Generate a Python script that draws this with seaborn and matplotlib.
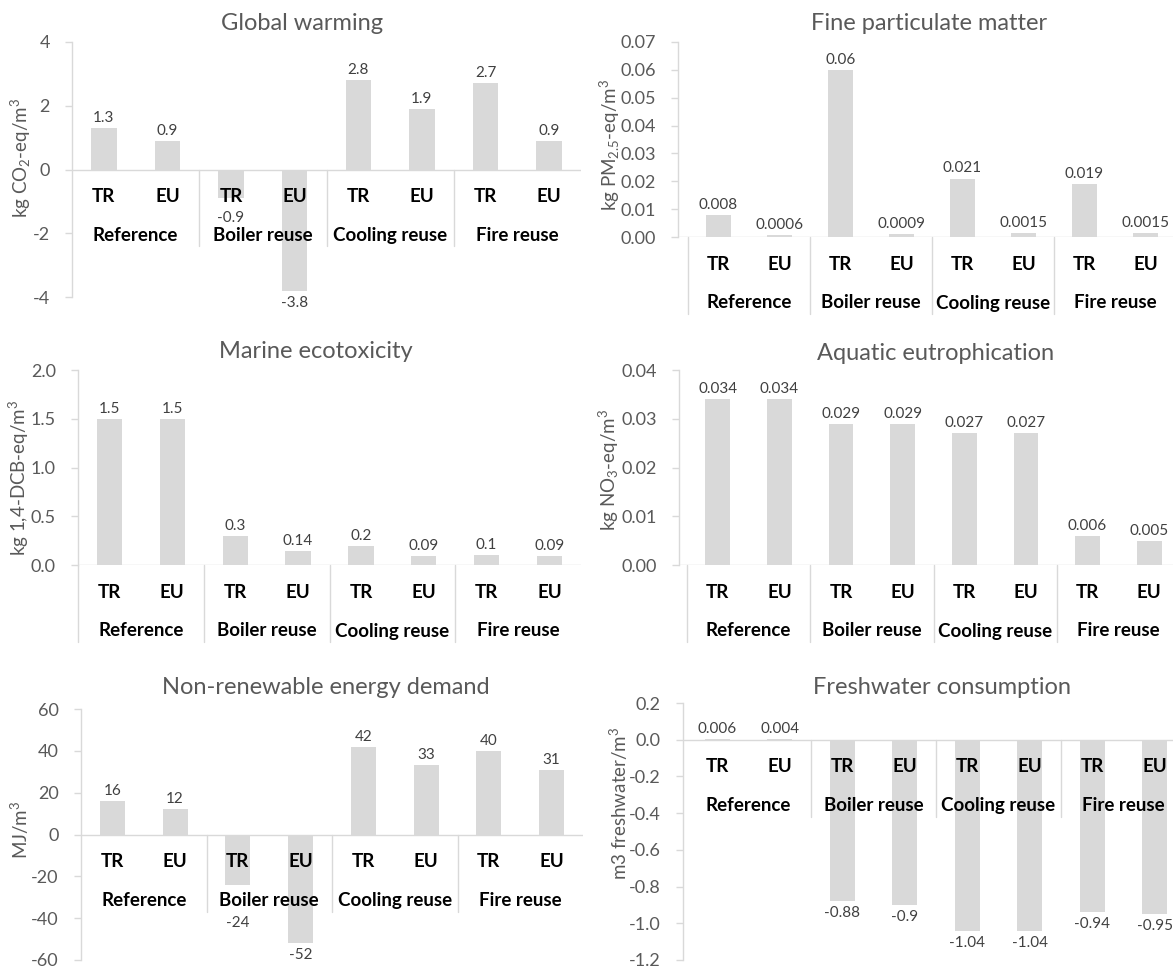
import matplotlib
matplotlib.use("Agg")
import matplotlib.pyplot as plt
import seaborn as sns
import pandas as pd

sns.set_theme(style="white")
plt.rcParams["font.family"] = ["Lato", "DejaVu Sans"]
plt.rcParams["mathtext.default"] = "regular"
plt.rcParams["axes.unicode_minus"] = False

# ---- data -------------------------------------------------------------
scenarios = ["Reference", "Boiler reuse", "Cooling reuse", "Fire reuse"]
regions = ["TR", "EU"]

global_warming = [1.3, 0.9, -0.9, -3.8, 2.8, 1.9, 2.7, 0.9]
fine_pm = [0.008, 0.0006, 0.06, 0.0009, 0.021, 0.0015, 0.019, 0.0015]
marine_ecotox = [1.5, 1.5, 0.3, 0.14, 0.2, 0.09, 0.1, 0.09]
aquatic_eutro = [0.034, 0.034, 0.029, 0.029, 0.027, 0.027, 0.006, 0.005]
nonrenew_energy = [16, 12, -24, -52, 42, 33, 40, 31]
freshwater = [0.006, 0.004, -0.88, -0.9, -1.04, -1.04, -0.94, -0.95]

titles = ["Global warming", "Fine particulate matter", "Marine ecotoxicity",
          "Aquatic eutrophication", "Non-renewable energy demand",
          "Freshwater consumption"]
ylabels = [r"kg CO$_2$-eq/m$^3$", r"kg PM$_{2.5}$-eq/m$^3$",
           r"kg 1,4-DCB-eq/m$^3$", r"kg NO$_3$-eq/m$^3$",
           r"MJ/m$^3$", r"m3 freshwater/m$^3$"]
yticks = [[-4, -2, 0, 2, 4],
          [0.00, 0.01, 0.02, 0.03, 0.04, 0.05, 0.06, 0.07],
          [0.0, 0.5, 1.0, 1.5, 2.0],
          [0.00, 0.01, 0.02, 0.03, 0.04],
          [-60, -40, -20, 0, 20, 40, 60],
          [-1.2, -1.0, -0.8, -0.6, -0.4, -0.2, 0.0, 0.2]]
tick_decimals = [0, 2, 1, 2, 0, 1]
series = [global_warming, fine_pm, marine_ecotox, aquatic_eutro,
          nonrenew_energy, freshwater]

# ---- layout (pixels, origin top-left) --------------------------------
W, H = 1173, 967
# spine x, category left, category right, y top, y bottom
frames = [
    (72, 72, 581, 42, 297),
    (678, 688, 1176, 42, 237),
    (78, 78, 581, 370, 565),
    (679, 687, 1180, 370, 565),
    (81, 81, 583, 709, 960),
    (683, 686, 1186, 703, 960),
]
title_pos = [(302, 24), (929, 24), (316, 352), (936, 354), (326, 688), (942, 688)]
ylabel_pos = [(21, 158), (610, 145), (19, 478), (609, 470), (20, 830), (619, 803)]
left_cat_edge = [False, True, True, True, False, False]
label_nudge = {(0, 2): -8, (4, 2): -26}

BAR = "#D9D9D9"
LINE = "#D9D9D9"
TXT = "#595959"

fig = plt.figure(figsize=(W / 100, H / 100), dpi=100)

for k in range(6):
    sx, cl, cr, yt, yb = frames[k]
    slot = (cr - cl) / 8
    ax = fig.add_axes([sx / W, 1 - yb / H, (cr - sx) / W, (yb - yt) / H])
    keys = [f"{s}|{r}" for s in scenarios for r in regions]
    df = pd.DataFrame({"key": keys, "value": series[k]})
    sns.barplot(data=df, x="key", y="value", order=keys, color=BAR,
                saturation=1, width=0.4, ax=ax, linewidth=0)
    ax.set_xlim(-0.5 - (cl - sx) / slot, 7.5)
    ax.set_ylim(yticks[k][0], yticks[k][-1])
    ax.set_xticks([])
    ax.set_xlabel("")
    ax.set_ylabel("")
    for side in ["top", "right", "bottom"]:
        ax.spines[side].set_visible(False)
    ax.spines["left"].set_color(LINE)
    ax.spines["left"].set_linewidth(1)
    ax.axhline(0, color=LINE, lw=1, zorder=0.5)

    d = tick_decimals[k]
    ax.set_yticks(yticks[k])
    ax.set_yticklabels([f"{t:.{d}f}" for t in yticks[k]])
    ax.tick_params(axis="y", left=True, length=5, width=1, color=LINE,
                   labelsize=13, labelcolor=TXT, pad=11)

    lx, ly = ylabel_pos[k]
    fig.text(lx / W, 1 - ly / H, ylabels[k], rotation=90, ha="center",
             va="center", fontsize=13.5, color=TXT)

    # category labels below the zero line
    for i in range(8):
        ax.annotate(regions[i % 2], xy=(i, 0), xytext=(0, -27),
                    textcoords="offset pixels", ha="center", va="center",
                    fontsize=13.5, fontweight="bold", color="black",
                    annotation_clip=False)
    for g, name in enumerate(scenarios):
        ax.annotate(name, xy=(2 * g + 0.5, 0), xytext=(0, -66),
                    textcoords="offset pixels", ha="center", va="center",
                    fontsize=13.5, fontweight="bold", color="black",
                    annotation_clip=False)

    # group separators hanging from the zero line
    y0px = ax.transData.transform((0, 0))[1]
    ybot = ax.transData.inverted().transform((0, y0px - 77))[1]
    xs = [1.5, 3.5, 5.5] + ([-0.5] if left_cat_edge[k] else [])
    for xsep in xs:
        ax.plot([xsep, xsep], [0, ybot], color=LINE, lw=1, clip_on=False)

    # value labels
    for i, v in enumerate(series[k]):
        off = 10 if v >= 0 else -12
        off += label_nudge.get((k, i), 0)
        ax.annotate(f"{v:g}", xy=(i, v), xytext=(0, off),
                    textcoords="offset pixels", ha="center", va="center",
                    fontsize=11, color="#404040", annotation_clip=False)

    tx, ty = title_pos[k]
    fig.text(tx / W, 1 - ty / H, titles[k], ha="center", va="center",
             fontsize=17, color=TXT)

fig.savefig("out.png", dpi=100, facecolor="white")
